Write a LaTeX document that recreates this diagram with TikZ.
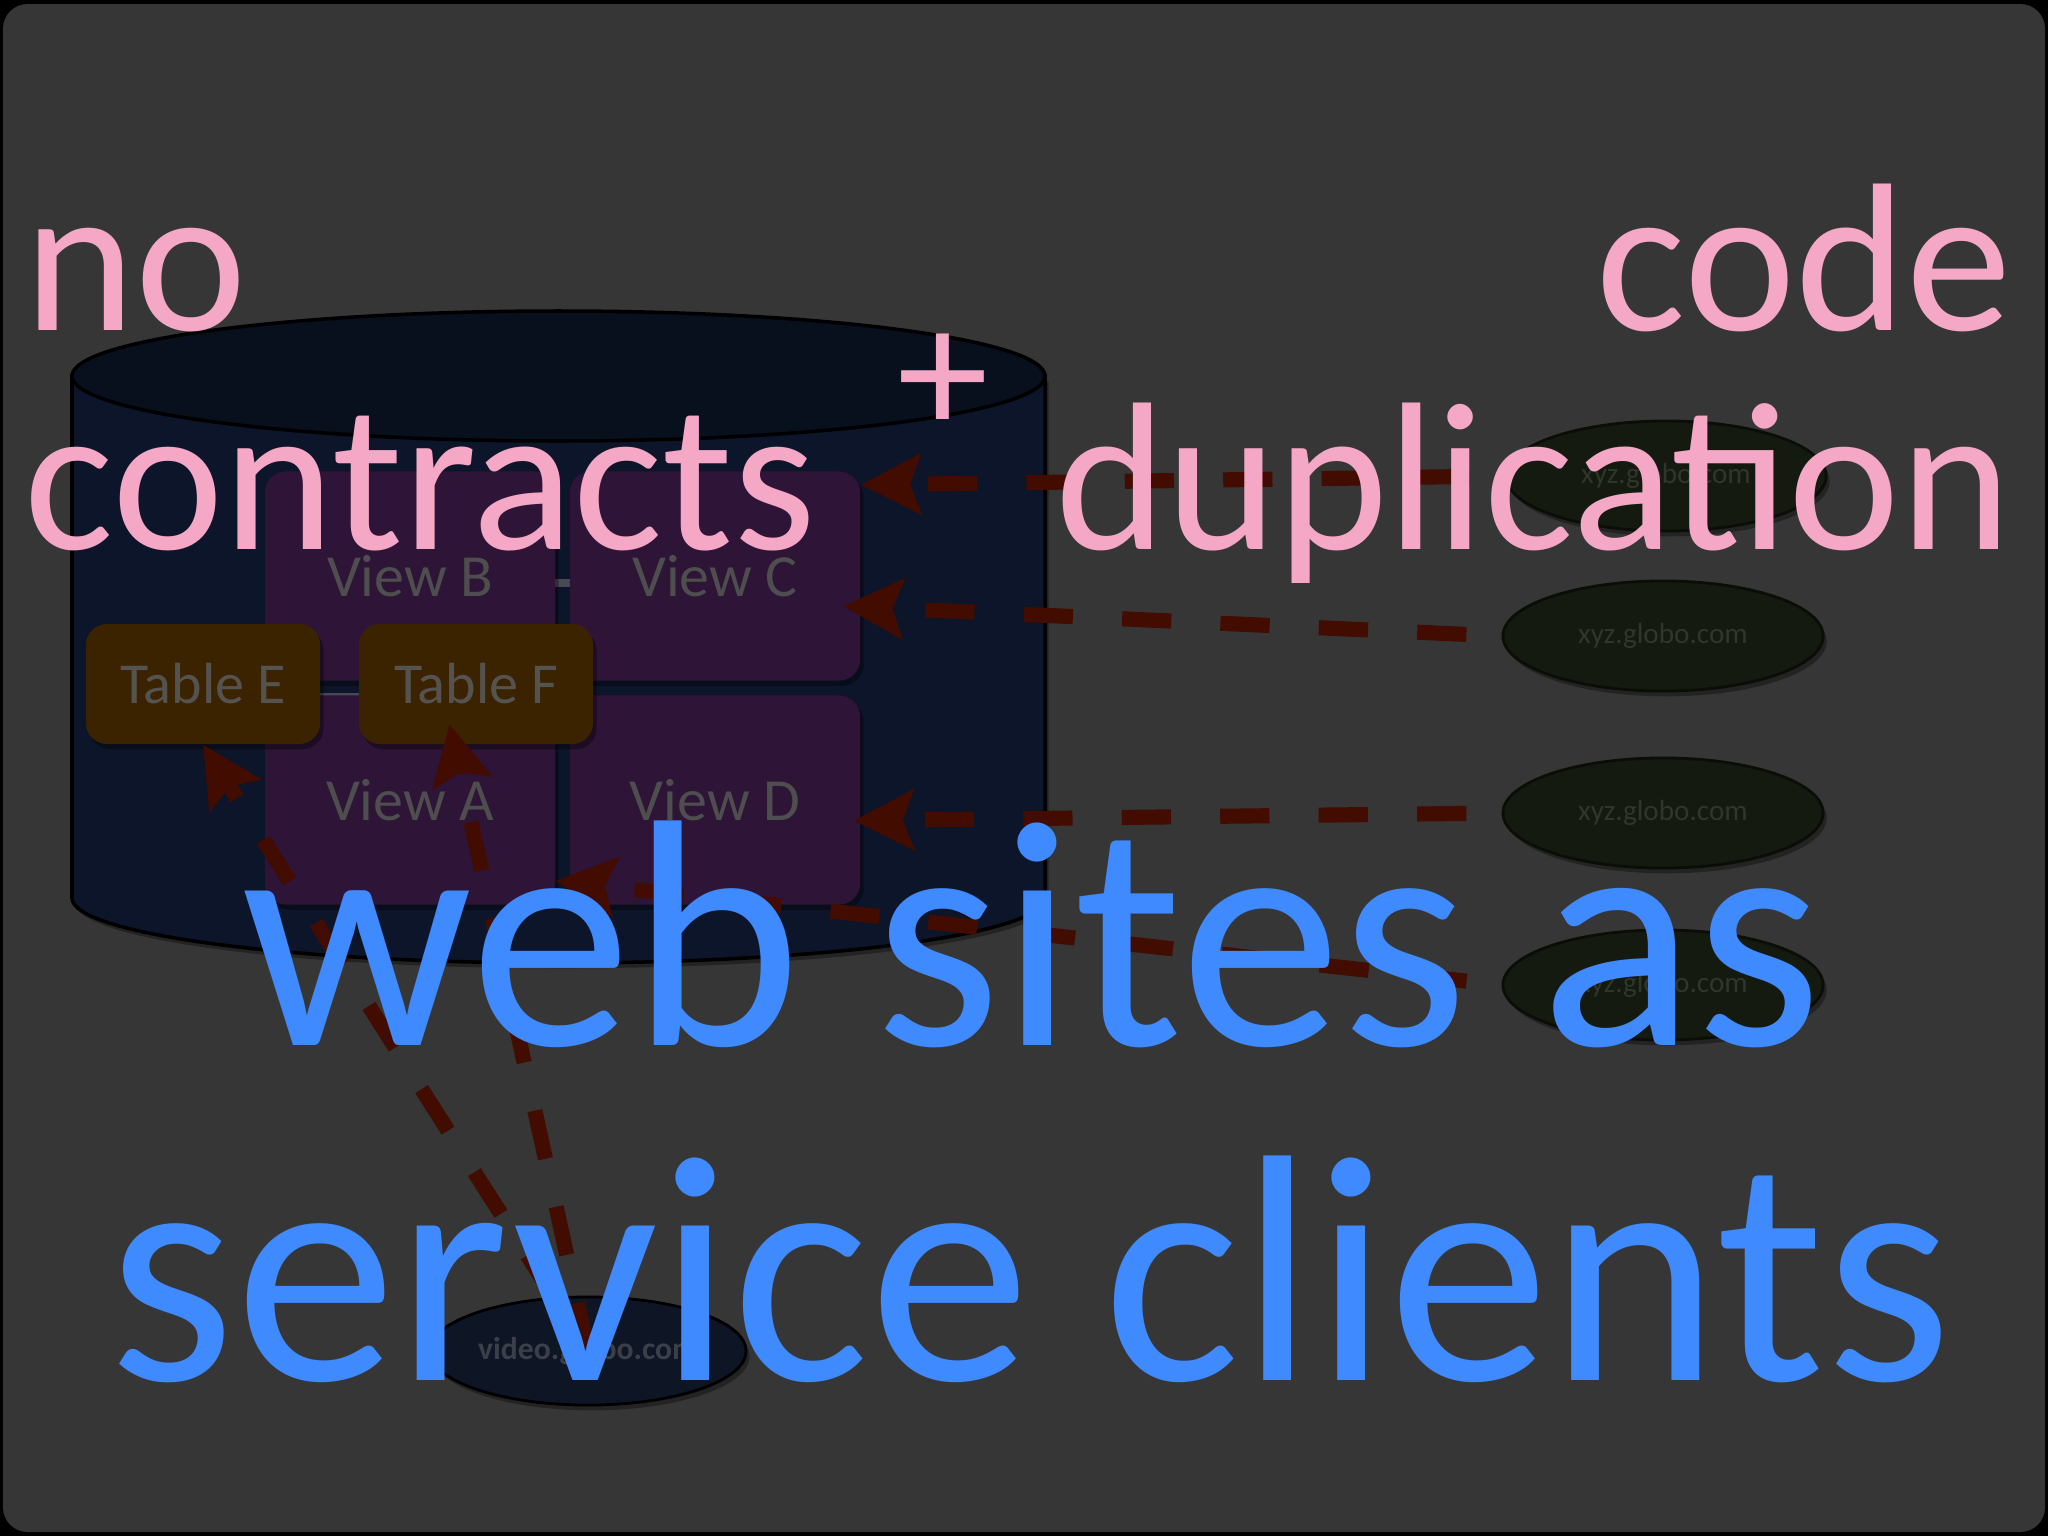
\documentclass[tikz,border=0pt]{standalone}
\usepackage{fontspec}
\setmainfont{Carlito}
\usetikzlibrary{arrows.meta,shadows,shapes.geometric}

\definecolor{slidebg}{HTML}{363636}
\definecolor{cylside}{HTML}{0C1529}
\definecolor{cyltop}{HTML}{08101D}
\definecolor{viewfill}{HTML}{2E1437}
\definecolor{tablefill}{HTML}{3C2300}
\definecolor{sitefill}{HTML}{141A10}
\definecolor{siteline}{HTML}{0A0E07}
\definecolor{videofill}{HTML}{0E1524}
\definecolor{flowred}{HTML}{420C00}
\definecolor{labelgray}{HTML}{4E4E4E}
\definecolor{tablegray}{HTML}{555350}
\definecolor{sitegray}{HTML}{30352D}
\definecolor{videogray}{HTML}{3B3F48}
\definecolor{linkgray}{HTML}{454A55}
\definecolor{pinkword}{HTML}{F4A8C6}
\definecolor{blueword}{HTML}{408AFF}

\begin{document}
\begin{tikzpicture}[x=0.01cm, y=-0.01cm,
  boxshadow/.style={drop shadow={shadow xshift=1pt, shadow yshift=-1.5pt, opacity=0.35, fill=black}},
  view/.style={fill=viewfill, rounded corners=6pt, minimum width=2.9cm, minimum height=2.09cm,
    inner sep=0pt, text=labelgray, font=\fontsize{17pt}{17pt}\selectfont, boxshadow},
  dbtable/.style={fill=tablefill, rounded corners=6pt, minimum width=2.34cm, minimum height=1.2cm,
    inner sep=0pt, text=tablegray, font=\fontsize{16.5pt}{16.5pt}\selectfont, boxshadow},
  site/.style={ellipse, fill=sitefill, draw=siteline, line width=0.8pt, minimum width=3.2cm,
    minimum height=1.1cm, inner sep=0pt, text=sitegray, font=\fontsize{8.3pt}{8.3pt}\selectfont, boxshadow},
  video/.style={ellipse, fill=videofill, draw=black, line width=0.8pt, minimum width=3.16cm,
    minimum height=1.08cm, inner sep=0pt, text=videogray, font=\bfseries\fontsize{9pt}{9pt}\selectfont, boxshadow},
  link/.style={draw=linkgray, line width=2pt},
  flow/.style={draw=flowred, line width=4.3pt, dash pattern=on 14pt off 14pt,
    -{Stealth[length=17pt, width=17pt, inset=3pt]}, shorten <=10pt},
  bigpink/.style={text=pinkword, inner sep=0pt, font=\fontsize{60pt}{60pt}\selectfont},
  bigblue/.style={text=blueword, inner sep=0pt, font=\fontsize{92pt}{92pt}\selectfont}]

\useasboundingbox (0,0) rectangle (2048,1536);

% slide background
\fill[black] (0,0) rectangle (2048,1536);
\fill[slidebg, rounded corners=7pt] (3,4) rectangle (2045,1532);

% database cylinder
\filldraw[fill=cylside, draw=black, line width=1pt, boxshadow]
  (72,376) -- (72,898) arc[start angle=180, end angle=0, x radius=486.5, y radius=65] -- (1045,376) -- cycle;
\filldraw[fill=cyltop, draw=black, line width=1pt] (558.5,376) ellipse [x radius=486.5, y radius=65];

% links between views and tables (mostly hidden)
\coordinate (bc) at (410,583);
\coordinate (cb) at (715,583);
\draw[link] (bc) -- (cb);
\coordinate (ef) at (203,697);
\coordinate (fe) at (476,697);
\draw[link] (ef) -- (fe);

% views
\node[view] (viewB) at (410,576) {View B};
\node[view] (viewC) at (715,576) {View C};
\node[view] (viewA) at (410,800) {View A};
\node[view] (viewD) at (715,800) {View D};

% tables
\node[dbtable] (tableE) at (203,684) {Table E};
\node[dbtable] (tableF) at (476,684) {Table F};

% web sites
\node[site] (xyz1) at (1666,476) {xyz.globo.com};
\node[site] (xyz2) at (1663,636) {xyz.globo.com};
\node[site] (xyz3) at (1663,813) {xyz.globo.com};
\node[site] (xyz4) at (1663,985) {xyz.globo.com};
\node[video] (video) at (588,1351) {video.globo.com};

% dependencies
\draw[flow] (xyz1.west) -- (viewC.32);
\draw[flow, shorten >=-5pt] (xyz2.west) -- (viewC.-12);
\draw[flow, shorten >=-2pt] (xyz3.west) -- (viewD.-8);
\draw[flow] (xyz4.west) -- (viewA.-29);
\draw[flow, shorten <=0pt, shorten >=-6pt] (video.center) -- (tableF.-110);
\draw[flow, shorten <=0pt] (video) -- (tableE.south);

% overlay words
\node[bigpink, anchor=base west] (no) at (24,330) {no};
\node[bigpink, anchor=base west] (contracts) at (24,549) {contracts};
\node[bigpink, font=\fontsize{52pt}{52pt}\selectfont] (plus) at (943,384) {+};
\node[bigpink, anchor=base east] (code) at (2012,330) {code};
\node[bigpink, anchor=base east] (duplication) at (2012,549) {duplication};
\node[bigblue, anchor=base] (websites) at (1032,1045) {web sites as};
\node[bigblue, anchor=base] (clients) at (1030,1380) {service clients};

\end{tikzpicture}
\end{document}
